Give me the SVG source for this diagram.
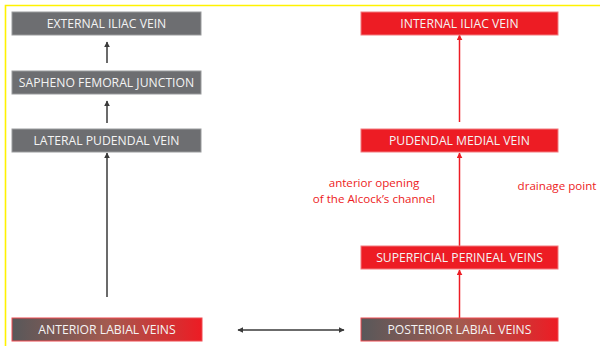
<svg xmlns="http://www.w3.org/2000/svg" width="600" height="346" viewBox="0 0 600 346">
<defs>
<style>
.gray{fill:#6d6e71;stroke:#9a9b9d;stroke-width:1}
.red{fill:#ed1c24;stroke:#f27a7f;stroke-width:1}
.grad{fill:url(#g);stroke:#f04a50;stroke-width:1}
.lbl{font-family:"Open Sans","Liberation Sans",sans-serif;font-size:12.2px;fill:#f4f4f4;text-anchor:middle}
.note{font-family:"Open Sans","Liberation Sans",sans-serif;font-size:11.6px;fill:#ed1c24;text-anchor:middle}
.cg{stroke:#3a3a3a;stroke-width:1.5;fill:none}
.cr{stroke:#ed1c24;stroke-width:1.5;fill:none}
</style>
<linearGradient id="g" x1="0" y1="0" x2="1" y2="0">
<stop offset="0" stop-color="#58585a"/>
<stop offset="0.5" stop-color="#a35a4f"/>
<stop offset="1" stop-color="#ed1c24"/>
</linearGradient>
<marker id="ag" viewBox="0 0 10 10" refX="9" refY="5" markerWidth="4" markerHeight="4" orient="auto-start-reverse" markerUnits="strokeWidth"><path d="M0,0 L10,5 L0,10 z" fill="#3a3a3a"/></marker>
<marker id="ar" viewBox="0 0 10 10" refX="9" refY="5" markerWidth="4" markerHeight="4" orient="auto" markerUnits="strokeWidth"><path d="M0,0 L10,5 L0,10 z" fill="#ed1c24"/></marker>
</defs>
<rect width="600" height="346" fill="#ffffff"/>
<path d="M5.5,346 V5.5 H600" fill="none" stroke="#fff200" stroke-width="1.6"/>

<g id="connectors">
<line class="cg" x1="107" y1="63" x2="107" y2="42" marker-end="url(#ag)"/>
<line class="cg" x1="107" y1="123" x2="107" y2="101" marker-end="url(#ag)"/>
<line class="cg" x1="107" y1="297" x2="107" y2="153" marker-end="url(#ag)"/>
<line class="cr" x1="459.5" y1="122" x2="459.5" y2="35" marker-end="url(#ar)"/>
<line class="cr" x1="459.5" y1="246" x2="459.5" y2="153" marker-end="url(#ar)"/>
<line class="cr" x1="459.5" y1="318" x2="459.5" y2="270" marker-end="url(#ar)"/>
<line class="cg" x1="238" y1="330" x2="344" y2="330" marker-start="url(#ag)" marker-end="url(#ag)"/>
</g>

<g id="external-iliac-vein"><rect class="gray" x="12" y="12" width="189" height="23"/><text class="lbl" x="106.5" y="28">EXTERNAL ILIAC VEIN</text></g>
<g id="sapheno-femoral-junction"><rect class="gray" x="12" y="71" width="189" height="23"/><text class="lbl" x="106.5" y="87">SAPHENO FEMORAL JUNCTION</text></g>
<g id="lateral-pudendal-vein"><rect class="gray" x="12" y="129" width="189" height="23"/><text class="lbl" x="106.5" y="145">LATERAL PUDENDAL VEIN</text></g>
<g id="anterior-labial-veins"><rect class="grad" x="12" y="318" width="190" height="23"/><text class="lbl" x="107" y="334">ANTERIOR LABIAL VEINS</text></g>

<g id="internal-iliac-vein"><rect class="red" x="361" y="12" width="197" height="23"/><text class="lbl" x="459.5" y="28">INTERNAL ILIAC VEIN</text></g>
<g id="pudendal-medial-vein"><rect class="red" x="361" y="129" width="197" height="23"/><text class="lbl" x="459.5" y="145">PUDENDAL MEDIAL VEIN</text></g>
<g id="superficial-perineal-veins"><rect class="red" x="361" y="246" width="197" height="23"/><text class="lbl" x="459.5" y="262">SUPERFICIAL PERINEAL VEINS</text></g>
<g id="posterior-labial-veins"><rect class="grad" x="361" y="318" width="197" height="23"/><text class="lbl" x="459.5" y="334">POSTERIOR LABIAL VEINS</text></g>

<g id="notes">
<text class="note" x="374" y="187">anterior opening</text>
<text class="note" x="374" y="203">of the Alcock’s channel</text>
<text class="note" x="557" y="190">drainage point</text>
</g>
</svg>
